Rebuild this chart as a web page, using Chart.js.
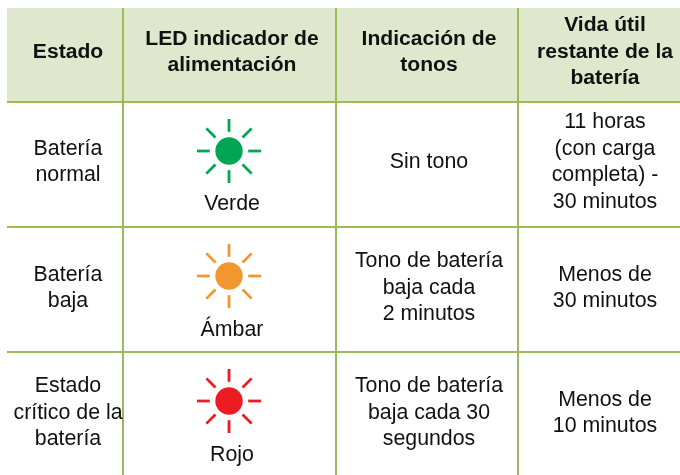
<!DOCTYPE html>
<html>
<head>
<meta charset="utf-8">
<style>
    html, body { margin:0; padding:0; background:#fff; }
    canvas { display:block; }
</style>
<script src="https://cdn.jsdelivr.net/npm/chart.js@4/dist/chart.umd.min.js"></script>
</head>
<body>
<canvas id="chart" width="680" height="475"></canvas>
<script>
// Table contents
const headers = [
    ['Estado'],
    ['LED indicador de', 'alimentación'],
    ['Indicación de', 'tonos'],
    ['Vida útil', 'restante de la', 'batería']
];
const estados = [['Batería', 'normal'], ['Batería', 'baja'], ['Estado', 'crítico de la', 'batería']];
const ledNames = ['Verde', 'Ámbar', 'Rojo'];
const ledColors = ['#00A651', '#F29630', '#ED1C24'];
const tonos = [
    ['Sin tono'],
    ['Tono de batería', 'baja cada', '2 minutos'],
    ['Tono de batería', 'baja cada 30', 'segundos']
];
const vidaUtil = [
    ['11 horas', '(con carga', 'completa) -', '30 minutos'],
    ['Menos de', '30 minutos'],
    ['Menos de', '10 minutos']
];

// Layout of the table, in axis units
const colLines = [123, 336, 518];
const rowLines = [102, 227, 352];
const colText = [68, 232, 429, 605];
const headerText = 52;
const rowText = [162, 288, 413];
const ledX = 229;
const ledY = [151, 276, 401];
const ledLabelY = [204, 330, 455];
const rayAngles = [0, 45, 90, 135, 180, 225, 270, 315];
const rayDist = 25.6;
const lineHeight = 26.6;

const rays = { data: [], colors: [], rotation: [] };
ledY.forEach((y, i) => {
    rayAngles.forEach(a => {
        const rad = a * Math.PI / 180;
        rays.data.push({ x: ledX + Math.cos(rad) * rayDist, y: y + Math.sin(rad) * rayDist });
        rays.colors.push(ledColors[i]);
        rays.rotation.push(a);
    });
});

const tablePlugin = {
    id: 'tablePlugin',
    beforeDraw(chart) {
        const { ctx, scales: { x, y } } = chart;
        ctx.save();
        ctx.fillStyle = '#DFE8CD';
        ctx.fillRect(x.left, y.top, x.right - x.left, y.getPixelForValue(rowLines[0]) - y.top);
        ctx.restore();
    },
    afterDatasetsDraw(chart) {
        const { ctx, scales: { x, y } } = chart;
        const cell = (lines, cx, cy) => {
            lines.forEach((t, i) => {
                const yy = cy + (i - (lines.length - 1) / 2) * lineHeight;
                ctx.fillText(t, x.getPixelForValue(cx), y.getPixelForValue(yy));
            });
        };
        ctx.save();
        ctx.textAlign = 'center';
        ctx.textBaseline = 'middle';
        ctx.fillStyle = '#111';

        ctx.font = 'bold 21.1px "Liberation Sans"';
        headers.forEach((h, c) => cell(h, colText[c], headerText));

        ctx.font = '21.33px "Liberation Sans"';
        rowText.forEach((ry, r) => {
            cell(estados[r], colText[0], ry);
            cell([ledNames[r]], colText[1], ledLabelY[r]);
            cell(tonos[r], colText[2], ry);
            cell(vidaUtil[r], colText[3], ry);
        });
        ctx.restore();
    }
};

new Chart(document.getElementById('chart'), {
    type: 'scatter',
    data: {
        datasets: [
            {
                label: 'LED',
                data: ledY.map(y => ({ x: ledX, y })),
                pointStyle: 'circle',
                pointRadius: 13.7,
                pointBorderWidth: 0,
                pointBackgroundColor: ledColors
            },
            {
                label: 'Rayos',
                data: rays.data,
                pointStyle: 'line',
                pointRadius: 6.4,
                pointBorderWidth: 2.8,
                pointBorderColor: rays.colors,
                pointRotation: rays.rotation
            }
        ]
    },
    options: {
        responsive: false,
        animation: false,
        layout: { autoPadding: false, padding: { left: 7, top: 8, right: 0, bottom: 0 } },
        plugins: { legend: { display: false }, tooltip: { enabled: false } },
        scales: {
            x: {
                type: 'linear', min: 7, max: 680,
                afterBuildTicks: s => { s.ticks = colLines.map(value => ({ value })); },
                ticks: { display: false },
                border: { display: false },
                grid: { color: '#9BBB59', lineWidth: 2, drawTicks: false }
            },
            y: {
                type: 'linear', min: 8, max: 475, reverse: true,
                afterBuildTicks: s => { s.ticks = rowLines.map(value => ({ value })); },
                ticks: { display: false },
                border: { display: false },
                grid: { color: '#9BBB59', lineWidth: 2, drawTicks: false }
            }
        }
    },
    plugins: [tablePlugin]
});
</script>
</body>
</html>
